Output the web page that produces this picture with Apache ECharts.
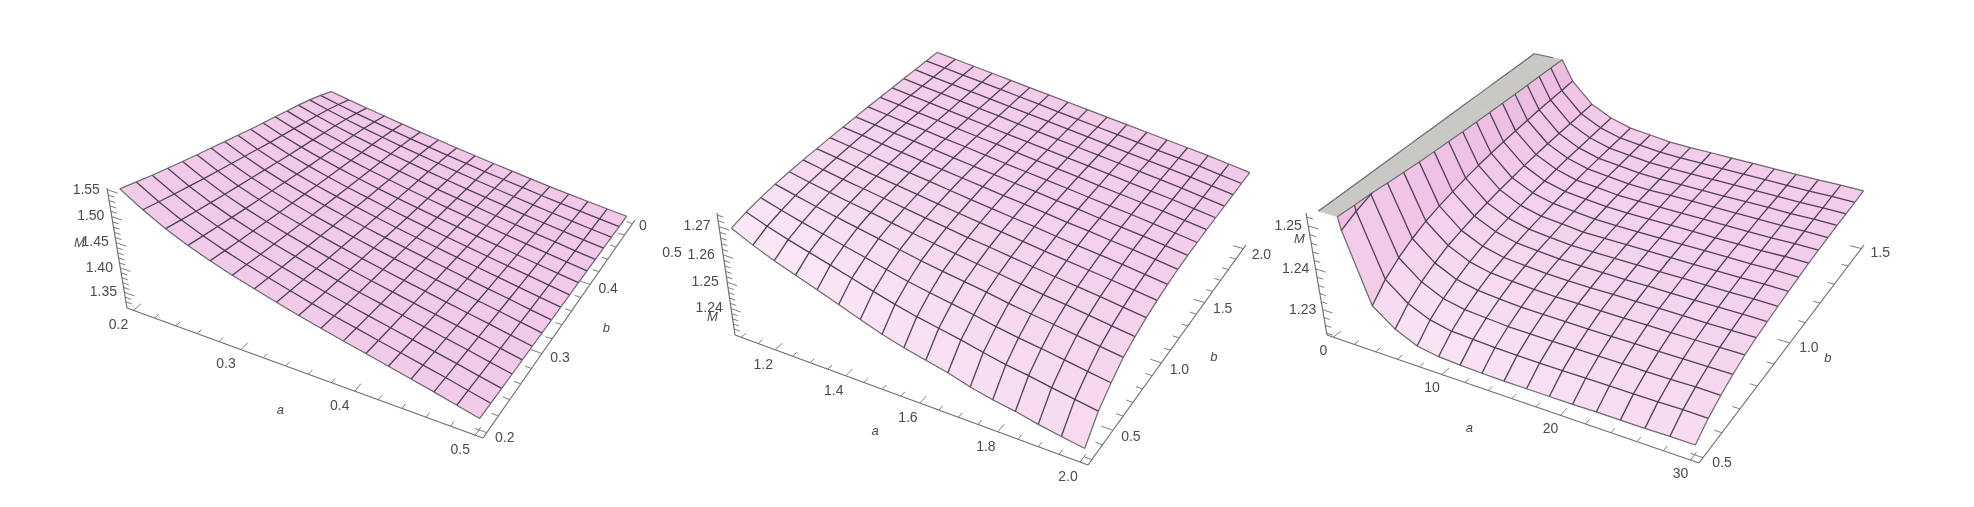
<!DOCTYPE html>
<html><head><meta charset="utf-8">
<script src="https://cdn.jsdelivr.net/npm/echarts@6/dist/echarts.min.js"></script>
<style>html,body{margin:0;padding:0;background:#fff}#c{width:1974px;height:507px;filter:blur(.5px)}</style>
</head><body><div id="c"></div>
<script>
// ---------- data ----------
const M1 = [
[1.5480,1.5383,1.5285,1.5195,1.5105,1.5021,1.4938,1.4854,1.4771,1.4688,1.4611,1.4535,1.4458,1.4382,1.4298,1.4201,1.4090],
[1.5225,1.5141,1.5056,1.4978,1.4900,1.4827,1.4755,1.4683,1.4610,1.4538,1.4472,1.4406,1.4339,1.4273,1.4201,1.4116,1.4020],
[1.5005,1.4931,1.4858,1.4790,1.4721,1.4658,1.4595,1.4532,1.4469,1.4406,1.4349,1.4291,1.4233,1.4175,1.4112,1.4039,1.3955],
[1.4825,1.4760,1.4695,1.4634,1.4574,1.4518,1.4462,1.4406,1.4351,1.4295,1.4244,1.4193,1.4141,1.4090,1.4034,1.3969,1.3895],
[1.4670,1.4612,1.4553,1.4499,1.4445,1.4394,1.4344,1.4294,1.4244,1.4194,1.4148,1.4102,1.4056,1.4010,1.3960,1.3902,1.3835],
[1.4535,1.4482,1.4429,1.4379,1.4330,1.4284,1.4239,1.4193,1.4147,1.4102,1.4060,1.4018,1.3976,1.3935,1.3889,1.3836,1.3775],
[1.4415,1.4366,1.4318,1.4273,1.4227,1.4186,1.4144,1.4102,1.4061,1.4019,1.3981,1.3942,1.3904,1.3866,1.3824,1.3776,1.3720],
[1.4300,1.4256,1.4211,1.4170,1.4129,1.4090,1.4052,1.4014,1.3976,1.3938,1.3903,1.3868,1.3833,1.3798,1.3760,1.3716,1.3665],
[1.4190,1.4150,1.4109,1.4072,1.4035,1.4000,1.3966,1.3931,1.3897,1.3862,1.3831,1.3799,1.3767,1.3736,1.3701,1.3661,1.3615],
[1.4090,1.4053,1.4016,1.3982,1.3948,1.3917,1.3885,1.3854,1.3822,1.3791,1.3762,1.3733,1.3704,1.3675,1.3644,1.3607,1.3565],
[1.3995,1.3962,1.3928,1.3898,1.3867,1.3838,1.3810,1.3781,1.3753,1.3724,1.3698,1.3672,1.3646,1.3620,1.3591,1.3558,1.3520],
[1.3900,1.3870,1.3840,1.3813,1.3785,1.3760,1.3734,1.3709,1.3683,1.3658,1.3634,1.3611,1.3588,1.3564,1.3539,1.3509,1.3475],
[1.3805,1.3779,1.3752,1.3728,1.3704,1.3681,1.3659,1.3636,1.3614,1.3591,1.3571,1.3550,1.3529,1.3509,1.3486,1.3460,1.3430],
[1.3710,1.3688,1.3665,1.3644,1.3624,1.3604,1.3585,1.3566,1.3547,1.3528,1.3510,1.3492,1.3475,1.3457,1.3438,1.3416,1.3390],
[1.3615,1.3597,1.3579,1.3562,1.3545,1.3529,1.3514,1.3498,1.3482,1.3467,1.3452,1.3438,1.3424,1.3410,1.3394,1.3376,1.3355],
[1.3510,1.3497,1.3483,1.3471,1.3459,1.3447,1.3436,1.3424,1.3413,1.3402,1.3391,1.3381,1.3370,1.3360,1.3348,1.3335,1.3320],
[1.3410,1.3402,1.3393,1.3385,1.3378,1.3370,1.3363,1.3356,1.3349,1.3342,1.3335,1.3328,1.3322,1.3315,1.3308,1.3300,1.3290]];
const M2 = [
[1.2688,1.2702,1.2711,1.2718,1.2722,1.2725,1.2727,1.2729,1.2730,1.2731,1.2732,1.2732,1.2732,1.2733,1.2733,1.2733,1.2733],
[1.2652,1.2675,1.2689,1.2700,1.2706,1.2711,1.2715,1.2718,1.2720,1.2721,1.2722,1.2723,1.2723,1.2723,1.2723,1.2724,1.2724],
[1.2621,1.2651,1.2669,1.2683,1.2692,1.2698,1.2703,1.2707,1.2709,1.2711,1.2712,1.2713,1.2714,1.2714,1.2714,1.2715,1.2715],
[1.2594,1.2630,1.2651,1.2668,1.2678,1.2686,1.2691,1.2696,1.2699,1.2702,1.2703,1.2704,1.2704,1.2705,1.2705,1.2706,1.2706],
[1.2567,1.2609,1.2633,1.2653,1.2665,1.2674,1.2680,1.2685,1.2689,1.2692,1.2693,1.2694,1.2695,1.2696,1.2696,1.2697,1.2697],
[1.2540,1.2587,1.2615,1.2638,1.2651,1.2661,1.2669,1.2675,1.2679,1.2682,1.2684,1.2685,1.2686,1.2687,1.2687,1.2688,1.2688],
[1.2512,1.2565,1.2597,1.2622,1.2637,1.2649,1.2657,1.2664,1.2669,1.2672,1.2674,1.2676,1.2676,1.2677,1.2678,1.2679,1.2679],
[1.2485,1.2544,1.2579,1.2607,1.2624,1.2637,1.2646,1.2653,1.2659,1.2663,1.2664,1.2666,1.2667,1.2668,1.2669,1.2669,1.2670],
[1.2463,1.2526,1.2564,1.2594,1.2612,1.2625,1.2635,1.2643,1.2649,1.2653,1.2655,1.2657,1.2658,1.2659,1.2660,1.2660,1.2661],
[1.2445,1.2511,1.2551,1.2582,1.2600,1.2615,1.2625,1.2633,1.2640,1.2644,1.2646,1.2648,1.2649,1.2650,1.2651,1.2651,1.2652],
[1.2427,1.2496,1.2537,1.2570,1.2589,1.2604,1.2615,1.2624,1.2630,1.2634,1.2637,1.2639,1.2640,1.2641,1.2641,1.2642,1.2643],
[1.2404,1.2478,1.2521,1.2556,1.2577,1.2593,1.2604,1.2613,1.2620,1.2625,1.2627,1.2629,1.2631,1.2632,1.2632,1.2633,1.2634],
[1.2386,1.2462,1.2508,1.2544,1.2565,1.2582,1.2594,1.2603,1.2611,1.2615,1.2618,1.2620,1.2621,1.2623,1.2623,1.2624,1.2625],
[1.2373,1.2451,1.2497,1.2533,1.2555,1.2572,1.2584,1.2594,1.2601,1.2606,1.2609,1.2611,1.2612,1.2614,1.2614,1.2615,1.2616],
[1.2355,1.2436,1.2484,1.2521,1.2544,1.2562,1.2574,1.2584,1.2592,1.2597,1.2599,1.2602,1.2603,1.2604,1.2605,1.2606,1.2607],
[1.2341,1.2423,1.2471,1.2509,1.2532,1.2550,1.2563,1.2573,1.2581,1.2586,1.2588,1.2591,1.2592,1.2593,1.2594,1.2595,1.2596],
[1.2328,1.2410,1.2459,1.2498,1.2521,1.2539,1.2552,1.2562,1.2570,1.2575,1.2577,1.2580,1.2581,1.2582,1.2583,1.2584,1.2585]];
const M3 = [
[1.2790,1.2800,1.2810,1.2820,1.2830,1.2835,1.2840,1.2845,1.2850,1.2855,1.2860,1.2865,1.2870,1.2870,1.2875,1.2880,1.2880],
[1.2500,1.2516,1.2528,1.2538,1.2546,1.2552,1.2556,1.2559,1.2562,1.2564,1.2566,1.2567,1.2568,1.2569,1.2569,1.2570,1.2570],
[1.2338,1.2372,1.2395,1.2413,1.2427,1.2437,1.2445,1.2452,1.2458,1.2463,1.2467,1.2470,1.2473,1.2476,1.2478,1.2480,1.2482],
[1.2297,1.2329,1.2352,1.2369,1.2383,1.2392,1.2400,1.2406,1.2412,1.2416,1.2421,1.2424,1.2427,1.2429,1.2431,1.2433,1.2435],
[1.2272,1.2305,1.2327,1.2344,1.2358,1.2368,1.2376,1.2382,1.2387,1.2392,1.2396,1.2400,1.2403,1.2405,1.2407,1.2409,1.2411],
[1.2263,1.2294,1.2316,1.2333,1.2346,1.2355,1.2363,1.2369,1.2374,1.2379,1.2383,1.2386,1.2389,1.2391,1.2393,1.2395,1.2397],
[1.2260,1.2291,1.2312,1.2328,1.2341,1.2350,1.2358,1.2363,1.2369,1.2373,1.2377,1.2381,1.2383,1.2385,1.2387,1.2389,1.2391],
[1.2258,1.2288,1.2308,1.2324,1.2337,1.2346,1.2353,1.2358,1.2363,1.2368,1.2372,1.2375,1.2377,1.2379,1.2381,1.2383,1.2385],
[1.2257,1.2287,1.2307,1.2323,1.2335,1.2344,1.2351,1.2357,1.2362,1.2366,1.2370,1.2373,1.2375,1.2377,1.2379,1.2381,1.2383],
[1.2257,1.2286,1.2306,1.2322,1.2335,1.2343,1.2350,1.2356,1.2361,1.2365,1.2369,1.2372,1.2375,1.2376,1.2378,1.2380,1.2382],
[1.2257,1.2286,1.2306,1.2321,1.2334,1.2343,1.2349,1.2355,1.2360,1.2364,1.2368,1.2371,1.2374,1.2375,1.2377,1.2379,1.2381],
[1.2257,1.2286,1.2306,1.2321,1.2333,1.2342,1.2349,1.2354,1.2359,1.2363,1.2367,1.2370,1.2373,1.2374,1.2376,1.2378,1.2380],
[1.2258,1.2286,1.2306,1.2321,1.2333,1.2342,1.2348,1.2354,1.2358,1.2363,1.2366,1.2369,1.2372,1.2374,1.2375,1.2377,1.2379],
[1.2258,1.2286,1.2305,1.2320,1.2332,1.2341,1.2347,1.2353,1.2358,1.2362,1.2365,1.2368,1.2371,1.2373,1.2374,1.2376,1.2378],
[1.2258,1.2286,1.2305,1.2320,1.2332,1.2340,1.2347,1.2352,1.2357,1.2361,1.2364,1.2367,1.2370,1.2372,1.2373,1.2375,1.2377],
[1.2259,1.2287,1.2306,1.2320,1.2332,1.2340,1.2347,1.2352,1.2357,1.2361,1.2365,1.2368,1.2370,1.2372,1.2373,1.2375,1.2377],
[1.2259,1.2286,1.2305,1.2320,1.2332,1.2340,1.2346,1.2351,1.2356,1.2360,1.2364,1.2367,1.2369,1.2371,1.2372,1.2374,1.2376]];

const aRange1 = [0.2, 0.5],  bRange1 = [0.2, 0.5], mRange1 = [1.317, 1.553];
const aRange2 = [1.1, 2.0],  bRange2 = [0.3, 2.0], mRange2 = [1.2296, 1.2747];
const aRange3 = [0, 30],     bRange3 = [0.5, 1.5], mRange3 = [1.2235, 1.2529];

const aTicks1 = [.2,.22,.24,.26,.28,.3,.32,.34,.36,.38,.4,.42,.44,.46,.48,.5];
const aMajor1 = [[.2,'0.2'],[.3,'0.3'],[.4,'0.4'],[.5,'0.5']];
const bTicks1 = [.2,.22,.24,.26,.28,.3,.32,.34,.36,.38,.4,.42,.44,.46,.48,.5];
const bMajor1 = [[.2,'0.2'],[.3,'0.3'],[.4,'0.4']];
const mTicks1 = [1.33,1.34,1.35,1.36,1.37,1.38,1.39,1.40,1.41,1.42,1.43,1.44,1.45,1.46,1.47,1.48,1.49,1.50,1.51,1.52,1.53,1.54,1.55];
const mMajor1 = [[1.35,'1.35'],[1.40,'1.40'],[1.45,'1.45'],[1.50,'1.50'],[1.55,'1.55']];

const aTicks2 = [1.1,1.15,1.2,1.25,1.3,1.35,1.4,1.45,1.5,1.55,1.6,1.65,1.7,1.75,1.8,1.85,1.9,1.95,2.0];
const aMajor2 = [[1.2,'1.2'],[1.4,'1.4'],[1.6,'1.6'],[1.8,'1.8'],[2.0,'2.0']];
const bTicks2 = [.3,.4,.5,.6,.7,.8,.9,1.0,1.1,1.2,1.3,1.4,1.5,1.6,1.7,1.8,1.9,2.0];
const bMajor2 = [[.5,'0.5'],[1.0,'1.0'],[1.5,'1.5'],[2.0,'2.0']];
const mTicks2 = [1.232,1.234,1.236,1.238,1.24,1.242,1.244,1.246,1.248,1.25,1.252,1.254,1.256,1.258,1.26,1.262,1.264,1.266,1.268,1.27,1.272,1.274];
const mMajor2 = [[1.24,'1.24'],[1.25,'1.25'],[1.26,'1.26'],[1.27,'1.27']];

const aTicks3 = [0,2,4,6,8,10,12,14,16,18,20,22,24,26,28,30];
const aMajor3 = [[0,'0'],[10,'10'],[20,'20'],[30,'30']];
const bTicks3 = [.5,.6,.7,.8,.9,1.0,1.1,1.2,1.3,1.4,1.5];
const bMajor3 = [[.5,'0.5'],[1.0,'1.0'],[1.5,'1.5']];
const mTicks3 = [1.224,1.226,1.228,1.23,1.232,1.234,1.236,1.238,1.24,1.242,1.244,1.246,1.248,1.25,1.252];
const mMajor3 = [[1.23,'1.23'],[1.24,'1.24'],[1.25,'1.25']];

// ---------- layout: camera of each box ----------
const panels = [
 {M:M1,aR:aRange1,bR:bRange1,mR:mRange1,aT:aTicks1,aL:aMajor1,bT:bTicks1,bL:bMajor1,mT:mTicks1,mL:mMajor1,
  F:[[127,308],[483,438],[635,220],[330,128]],top:[107,188],vy:1826,
  aOff:[-15,15],bOff:[18,5],mOff:[-21,0],
  names:[['a',[.35,0,0],[36,60]],['b',[1,.62,0],[22,36]],['M',[0,0,.6],[-36,5]]],
  extra:[['0',[1,1,0],[8,6]],['0.5',[1,1,0],[37,33]]],
  shade:(u,v)=>.04+.1*(1-v)},
 {M:M2,aR:aRange2,bR:bRange2,mR:mRange2,aT:aTicks2,aL:aMajor2,bT:bTicks2,bL:bMajor2,mT:mTicks2,mL:mMajor2,
  F:[[735,335],[1088,465],[1246,245],[936,157]],top:[717,213],vy:1826,
  aOff:[-12,15],bOff:[18,7],mOff:[-22,0],
  names:[['a',[.42,0,0],[2,46]],['b',[1,.45,0],[47,2]],['M',[0,0,.15],[-20,0]]],extra:[],
  shade:(u,v)=>(1-.45*u)*Math.exp(-2.2*v)+.05},
 {M:M3,aR:aRange3,bR:bRange3,mR:mRange3,aT:aTicks3,aL:aMajor3,bT:bTicks3,bL:bMajor3,mT:mTicks3,mL:mMajor3,
  F:[[1327,335],[1699,463],[1864,245],[1535,162]],top:[1306,213],vy:1826,clip:true,
  aOff:[-10,14],bOff:[19,5],mOff:[-20,0],
  names:[['a',[.4,0,0],[6,46]],['b',[1,.5,0],[38,15]],['M',[0,0,.8],[-11,0]]],extra:[],
  shade:(u,v)=>.9*(1-.4*u)*Math.exp(-2*v)+.08-1.4*Math.exp(-Math.pow(u/.13,2))}
];

const linMap = echarts.number.linearMap;
panels.forEach(p=>{
  const [[x0,y0],[x1,y1],[x2,y2],[x3,y3]] = p.F;
  const dx1=x1-x2,dx2=x3-x2,dx3=x0-x1+x2-x3,dy1=y1-y2,dy2=y3-y2,dy3=y0-y1+y2-y3;
  const den=dx1*dy2-dx2*dy1, g=(dx3*dy2-dx2*dy3)/den, h=(dx1*dy3-dx3*dy1)/den;
  const a=x1-x0+g*x1,b=x3-x0+h*x3,c=x0,d=y1-y0+g*y1,e=y3-y0+h*y3,f=y0;
  const Vt=(p.top[1]-y0)/(p.vy-p.top[1]);
  const xv=p.top[0]+(p.vy-p.top[1])*(x0-p.top[0])/(y0-p.top[1]);
  const Vx=xv*Vt,Vy=p.vy*Vt;
  p.proj=(u,v,w)=>{
    const t=g*u+h*v+1+Vt*w;
    return [(a*u+b*v+c+Vx*w)/t,(d*u+e*v+f+Vy*w)/t];
  };
  p.uA=x=>linMap(x,p.aR,[.02,.98],false);
  p.vB=x=>linMap(x,p.bR,[.02,.98],false);
  p.wM=x=>linMap(x,p.mR,[0,1],false);
  p.node=(i,j)=>({u:.02+.96*i/16,v:.02+.96*j/16,w:p.wM(p.M[i][j])});
});

function mix(c1,c2,t){
  const r=[0,1,2].map(k=>Math.round(c1[k]+(c2[k]-c1[k])*t));
  return 'rgb('+r.join(',')+')';
}
const cDark=[232,178,220],cMid=[241,198,231],cLight=[251,234,247];
function colorOf(t){
  if(t<0) return mix(cMid,cDark,Math.min(1,-t));
  return mix(cMid,cLight,Math.min(1,t));
}
const cross=(a,b)=>{const s=(1-a.w)/(b.w-a.w);return {u:a.u+(b.u-a.u)*s,v:a.v+(b.v-a.v)*s,w:1};};

function cellItem(p){
  return function(params,api){
    const i=api.value(0),j=api.value(1);
    const q=[p.node(i,j),p.node(i+1,j),p.node(i+1,j+1),p.node(i,j+1)];
    const fill=colorOf(p.shade(.02+.96*(i+.5)/16,.02+.96*(j+.5)/16));
    const below=[],above=[],xs=[];
    for(let k=0;k<4;k++){
      const s=q[k],n=q[(k+1)%4];
      if(!p.clip||s.w<=1) below.push(s);
      if(p.clip&&s.w>=1) above.push(s);
      if(p.clip&&(s.w-1)*(n.w-1)<0){const m=cross(s,n);below.push(m);above.push(m);xs.push(m);}
    }
    const ch=[];
    if(above.length>2){
      const pts=above.map(o=>p.proj(o.u,o.v,1));
      ch.push({type:'polygon',shape:{points:pts},style:{fill:'#c9c8c5',stroke:'#c9c8c5',lineWidth:.6}});
    }
    if(below.length>2){
      const pts=below.map(o=>p.proj(o.u,o.v,o.w));
      ch.push({type:'polygon',shape:{points:pts},style:{fill:fill,stroke:fill,lineWidth:.6}});
    }
    if(xs.length==2){
      ch.push({type:'line',shape:lineShape(p,xs[0],xs[1]),style:{stroke:'#6a6a6a',lineWidth:1.2}});
    }
    return {type:'group',children:ch};
  };
}
function lineShape(p,a,b){
  const A=p.proj(a.u,a.v,p.clip?Math.min(a.w,1):a.w),B=p.proj(b.u,b.v,p.clip?Math.min(b.w,1):b.w);
  return {x1:A[0],y1:A[1],x2:B[0],y2:B[1]};
}
function meshItem(p){
  return function(params,api){
    const i=api.value(0),j=api.value(1),dir=api.value(2);
    const a=p.node(i,j),b=dir==0?p.node(i+1,j):p.node(i,j+1);
    const border=dir==0?(j==0||j==16):(i==0||i==16);
    let s=a,e=b;
    if(p.clip){
      const aa=a.w>1,ba=b.w>1;
      if(aa&&ba){ if(!border) return {type:'group',children:[]}; }
      else if(aa) s=cross(a,b);
      else if(ba) e=cross(a,b);
    }
    return {type:'line',shape:lineShape(p,s,e),
      style:{stroke:border?'#66626a':'#46384e',lineWidth:border?1.2:1.3,opacity:border?.95:.95}};
  };
}
function axisItem(p){
  const out=[];
  const seg=(A,B,w)=>{const a=p.proj(...A),b=p.proj(...B);
    out.push({type:'line',shape:{x1:a[0],y1:a[1],x2:b[0],y2:b[1]},style:{stroke:'#6e6e6e',lineWidth:w}});};
  const txt=(s,A,off,o)=>{const a=p.proj(...A);
    out.push({type:'text',x:a[0]+off[0],y:a[1]+off[1],style:Object.assign({text:s,fill:'#4b4b4b',font:'14px "Liberation Sans"',align:'center',verticalAlign:'middle'},o||{})});};
  seg([0,0,0],[1,0,0],1.2);seg([1,0,0],[1,1,0],1.2);seg([0,0,0],[0,0,1],1.2);
  const isMaj=(L,x)=>L.some(t=>Math.abs(t[0]-x)<1e-6);
  p.aT.forEach(x=>{const u=p.uA(x),l=isMaj(p.aL,x)?.03:.018;seg([u,0,0],[u,l,0],.9);});
  p.bT.forEach(x=>{const v=p.vB(x),l=isMaj(p.bL,x)?.03:.018;seg([1,v,0],[1-l,v,0],.9);});
  p.mT.forEach(x=>{const w=p.wM(x),l=isMaj(p.mL,x)?.03:.018;seg([0,0,w],[l,0,w],.9);});
  p.aL.forEach(t=>txt(t[1],[p.uA(t[0]),0,0],p.aOff));
  p.bL.forEach(t=>txt(t[1],[1,p.vB(t[0]),0],p.bOff));
  p.mL.forEach(t=>txt(t[1],[0,0,p.wM(t[0])],p.mOff));
  p.extra.forEach(t=>txt(t[0],t[1],t[2]));
  p.names.forEach(t=>txt(t[0],t[1],t[2],{font:'italic 13px "Liberation Sans"'}));
  return out;
}

const series=[];
panels.forEach(p=>{
  const cells=[],edges=[];
  for(let j=15;j>=0;j--)for(let i=0;i<16;i++)cells.push([i,j,p.M[i][j]]);
  for(let i=0;i<=16;i++)for(let j=0;j<=16;j++){
    if(i<16)edges.push([i,j,0]);
    if(j<16)edges.push([i,j,1]);
  }
  series.push({type:'custom',coordinateSystem:'none',silent:true,animation:false,z:2,data:cells,renderItem:cellItem(p)});
  series.push({type:'custom',coordinateSystem:'none',silent:true,animation:false,z:3,data:edges,renderItem:meshItem(p)});
  series.push({type:'custom',coordinateSystem:'none',silent:true,animation:false,z:1,data:[[0]],
    renderItem:()=>({type:'group',children:axisItem(p)})});
});
const chart=echarts.init(document.getElementById('c'),null,{renderer:'canvas'});
chart.setOption({backgroundColor:'#fff',animation:false,series});
</script></body></html>
